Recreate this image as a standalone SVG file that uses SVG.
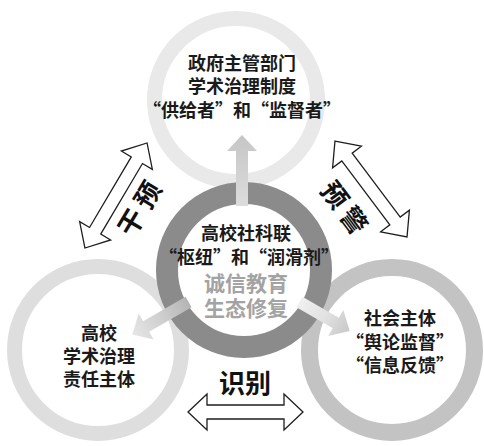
<svg xmlns="http://www.w3.org/2000/svg" width="484" height="446" viewBox="0 0 484 446">
  <defs>
    <style>
      .t { font-family: "Noto Sans CJK SC", "Noto Sans", sans-serif; font-weight: 700; fill: #1a1a1a; text-anchor: middle; }
      .n { font-size: 18px; }
      .fw { font-feature-settings: "fwid" 1; }
      .g { font-size: 21px; fill: #a3a3a3; }
      .big { font-size: 26px; fill: #111; }
      .outline { fill: #ffffff; stroke: #1e1e1e; stroke-width: 1.3; stroke-linejoin: miter; }
      .ring { fill: none; }
    </style>
    <linearGradient id="gLL" gradientUnits="userSpaceOnUse" x1="64" y1="0" x2="129" y2="0">
      <stop offset="0" stop-color="#b4b4b4"/>
      <stop offset="0.45" stop-color="#cdcdcd"/>
      <stop offset="1" stop-color="#e6e6e6"/>
    </linearGradient>
    <linearGradient id="gLR" gradientUnits="userSpaceOnUse" x1="64" y1="0" x2="122" y2="0">
      <stop offset="0" stop-color="#f0f0f0"/>
      <stop offset="0.5" stop-color="#e2e2e2"/>
      <stop offset="1" stop-color="#c8c8c8"/>
    </linearGradient>
    <linearGradient id="gUp" gradientUnits="userSpaceOnUse" x1="0" y1="206" x2="0" y2="135">
      <stop offset="0" stop-color="#dcdcdc"/>
      <stop offset="1" stop-color="#c6c6c6"/>
    </linearGradient>
  </defs>

  <rect x="0" y="0" width="484" height="446" fill="#ffffff"/>

  <!-- outer nodes -->
  <g id="node-top">
    <circle class="ring" cx="236" cy="100" r="81.5" stroke="#e9e9e9" stroke-width="15"/>
    <text class="t n" x="242" y="70">政府主管部门</text>
    <text class="t n" x="242" y="93">学术治理制度</text>
    <text class="t n fw" x="242" y="117">“供给者”和“监督者”</text>
  </g>

  <g id="node-left">
    <circle class="ring" cx="98" cy="350" r="83.5" stroke="#dedede" stroke-width="15"/>
    <text class="t n" x="99" y="340">高校</text>
    <text class="t n" x="99" y="363">学术治理</text>
    <text class="t n" x="99" y="386">责任主体</text>
  </g>

  <g id="node-right">
    <circle class="ring" cx="392" cy="350" r="82.5" stroke="#c3c3c3" stroke-width="17"/>
    <text class="t n" x="400" y="325">社会主体</text>
    <text class="t n" x="400" y="349">“舆论监督”</text>
    <text class="t n" x="400" y="372">“信息反馈”</text>
  </g>

  <!-- center node -->
  <g id="node-center">
    <circle cx="244" cy="270" r="77" fill="#ffffff" stroke="#8b8b8b" stroke-width="22"/>
    <text class="t n" x="246" y="240">高校社科联</text>
    <text class="t n fw" x="249" y="264">“枢纽”和“润滑剂”</text>
    <text class="t g" x="246" y="291">诚信教育</text>
    <text class="t g" x="246" y="316">生态修复</text>
  </g>

  <!-- connectors -->
  <g id="connectors">
    <polygon points="236,206 236,151 227,151 242,135 257,151 248,151 248,206" fill="url(#gUp)"/>
    <polygon transform="translate(244 270) rotate(150)" points="64,-6 113,-6 113,-15 129,0 113,15 113,6 64,6" fill="url(#gLL)"/>
    <polygon transform="translate(244 270) rotate(30)" points="64,-6 106,-6 106,-15 122,0 106,15 106,6 64,6" fill="url(#gLR)"/>

    <polygon class="outline" transform="translate(116 195.5) rotate(-59.4)" points="-61,0 -41,-18 -41,-6.5 41,-6.5 41,-18 61,0 41,18 41,6.5 -41,6.5 -41,18"/>
    <polygon class="outline" transform="translate(371 189) rotate(53.1)" points="-60,0 -40,-18 -40,-6.5 40,-6.5 40,-18 60,0 40,18 40,6.5 -40,6.5 -40,18"/>
    <polygon class="outline" transform="translate(245.5 412)" points="-57.5,0 -38.5,-18 -38.5,-7 38.5,-7 38.5,-18 57.5,0 38.5,18 38.5,7 -38.5,7 -38.5,18"/>

    <text class="t big" transform="translate(140 209) rotate(-59)" x="3" y="9" font-size="27" letter-spacing="6">干预</text>
    <text class="t big" transform="translate(344 208) rotate(53)" x="3" y="9" font-size="27" letter-spacing="6">预警</text>
    <text class="t big" x="245" y="393" font-size="28">识别</text>
  </g>
</svg>
